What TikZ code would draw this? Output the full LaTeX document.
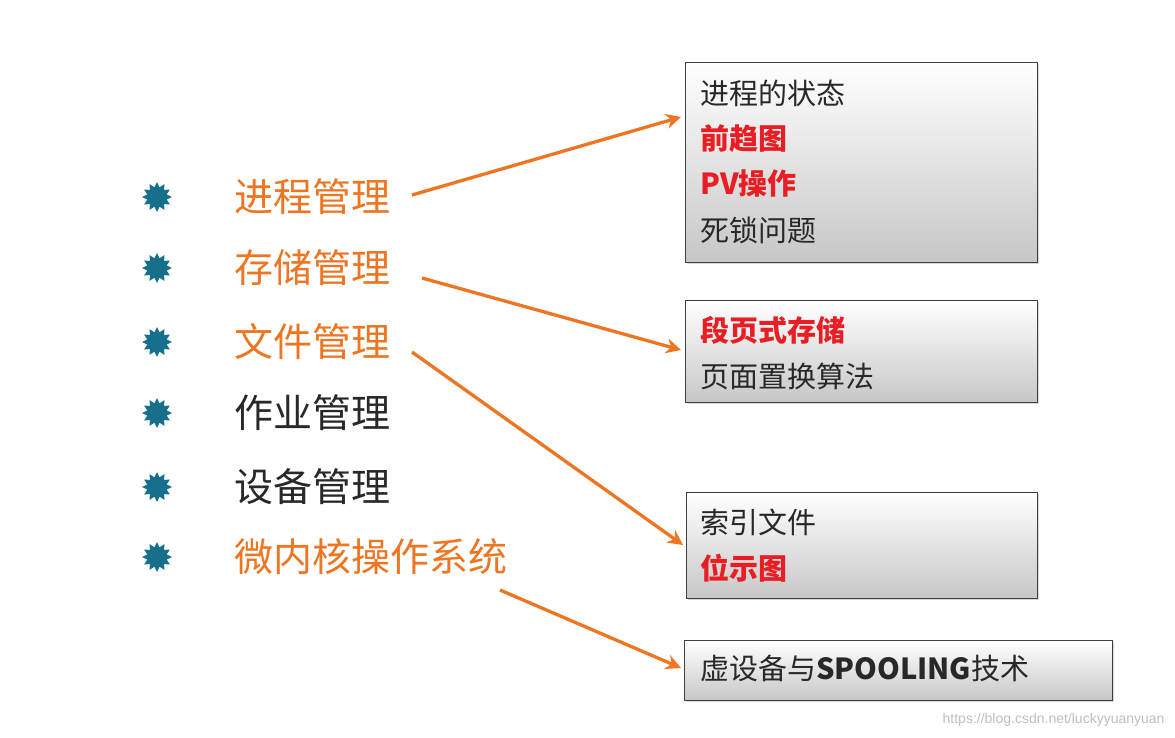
\documentclass[tikz,border=0pt]{standalone}
\usepackage{fontspec}
\setmainfont{Noto Sans CJK SC}
\newfontfamily\wmfont{Liberation Sans}
\usetikzlibrary{shapes.geometric,shadows,calc,arrows.meta}
\definecolor{org}{RGB}{238,118,34}
\definecolor{rd}{RGB}{232,30,36}
\definecolor{tl}{RGB}{22,112,140}
\definecolor{tx}{RGB}{40,40,40}
\tikzset{
 box/.style={draw=black!75,line width=1.2pt,top color=white,bottom color=black!22,drop shadow={shadow xshift=1.5pt,shadow yshift=-1.5pt,opacity=.3},anchor=north west,inner sep=0pt},
 lab/.style={anchor=west,font=\fontsize{39}{42}\selectfont,inner sep=0pt},
 bt/.style={anchor=west,font=\fontsize{29}{32}\selectfont,inner sep=0pt,text=tx},
 bul/.style={star,star points=12,star point ratio=1.5,fill=tl,minimum size=30pt,inner sep=0pt},
 arr/.style={draw=org,line width=3.3pt,-{Stealth[length=15pt,width=15pt]}}
}
\begin{document}
\begin{tikzpicture}[x=1pt,y=-1pt]
\useasboundingbox (0,0) rectangle (1175,737);
\fill[white] (0,0) rectangle (1175,737);
\node[box,minimum width=352pt,minimum height=200pt] (b1) at (685,62) {};
\node[box,minimum width=352pt,minimum height=102pt] (b2) at (685,300) {};
\node[box,minimum width=351pt,minimum height=106pt] (b3) at (686,492) {};
\node[box,minimum width=428pt,minimum height=60pt] (b4) at (684,640) {};
\node[bt] (t11) at (700,93) {进程的状态};
\node[bt,text=rd] (t12) at (700,139) {\textbf{前趋图}};
\node[bt,text=rd] (t13) at (700,184) {\textbf{PV操作}};
\node[bt] (t14) at (700,230) {死锁问题};
\node[bt,text=rd] (t21) at (700,330) {\textbf{段页式存储}};
\node[bt] (t22) at (700,376) {页面置换算法};
\node[bt] (t31) at (700,522) {索引文件};
\node[bt,text=rd] (t32) at (700,568) {\textbf{位示图}};
\node[bt] (t41) at (700,668) {虚设备与\textbf{SPOOLING}技术};
\foreach \i/\y/\t/\c in {1/197/进程管理/org,2/268/存储管理/org,3/342/文件管理/org,4/413/作业管理/tx,5/487/设备管理/tx,6/557/微内核操作系统/org}{
 \node[bul] (p\i) at (157,\y) {};
 \node[lab,text=\c] (l\i) at (234,\y) {\t};
}
\coordinate (s1) at (412,195);
\coordinate (s2) at (422,278);
\coordinate (s3) at (412,352);
\coordinate (s4) at (500,590);
\draw[arr] (s1) -- ($(b1.north west)+(-4,55)$);
\draw[arr] (s2) -- ($(b2.north west)+(-4,50)$);
\draw[arr] (s3) -- ($(b3.north west)+(-3,53)$);
\draw[arr] (s4) -- ($(b4.north west)+(-3,28)$);
\node[anchor=south east,font=\wmfont\fontsize{14}{15}\selectfont,text=black!25] (wm) at (1168,730) {https://blog.csdn.net/luckyyuanyuan};
\end{tikzpicture}
\end{document}
